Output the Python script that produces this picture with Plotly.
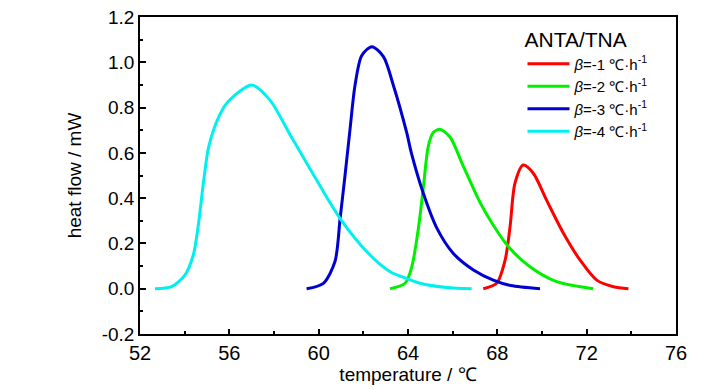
import plotly.graph_objects as go

# beta = -1 (red)
red_x = [67.37, 67.97, 68.35, 68.57, 68.79, 69.16, 69.61, 70.21, 70.96, 71.7, 72.45, 73.2, 73.87]
red_y = [0.0, 0.024, 0.127, 0.274, 0.466, 0.546, 0.51, 0.39, 0.245, 0.127, 0.038, 0.009, 0.0]
# beta = -2 (green)
green_x = [63.2, 63.87, 64.17, 64.47, 64.69, 64.91, 65.13, 65.43, 65.88, 66.48, 67.23, 67.82, 68.5, 69.46, 70.66, 72.3]
green_y = [0.0, 0.024, 0.097, 0.27, 0.45, 0.63, 0.69, 0.704, 0.67, 0.54, 0.38, 0.28, 0.185, 0.097, 0.031, 0.0]
# beta = -3 (blue)
blue_x = [59.46, 60.21, 60.73, 60.96, 61.18, 61.4, 61.63, 61.93, 62.38, 62.9, 63.34, 63.94, 64.15, 64.69, 65.28, 66.03, 66.93, 67.82, 68.6, 69.91]
blue_y = [0.0, 0.024, 0.12, 0.31, 0.50, 0.70, 0.90, 1.03, 1.069, 1.025, 0.90, 0.69, 0.60, 0.42, 0.27, 0.156, 0.083, 0.038, 0.014, 0.0]
# beta = -4 (cyan)
cyan_x = [52.67, 53.42, 54.01, 54.39, 54.61, 54.83, 55.06, 55.36, 55.81, 56.25, 57.0, 57.82, 58.72, 59.61, 60.96, 62.3, 63.2, 64.0, 64.54, 65.73, 66.85]
cyan_y = [0.0, 0.009, 0.06, 0.15, 0.28, 0.46, 0.62, 0.72, 0.81, 0.855, 0.90, 0.833, 0.68, 0.53, 0.31, 0.149, 0.075, 0.043, 0.024, 0.005, 0.0]

series_names = ["<i>β</i>=-1 ℃·h<sup>-1</sup>", "<i>β</i>=-2 ℃·h<sup>-1</sup>",
                "<i>β</i>=-3 ℃·h<sup>-1</sup>", "<i>β</i>=-4 ℃·h<sup>-1</sup>"]
series_colors = ["#FF0000", "#00F000", "#0000D0", "#00F0F0"]

x_ticks = [52, 56, 60, 64, 68, 72, 76]
y_ticks = [-0.2, 0.0, 0.2, 0.4, 0.6, 0.8, 1.0, 1.2]

fig = go.Figure()
for xs, ys, name, col in zip([red_x, green_x, blue_x, cyan_x],
                             [red_y, green_y, blue_y, cyan_y],
                             series_names, series_colors):
    fig.add_trace(go.Scatter(x=xs, y=ys, mode="lines", name=name,
                             line=dict(color=col, width=3, shape="spline", smoothing=0.8)))

font_main = "Liberation Sans, Arial, sans-serif"

# the page body adds an 8px offset; margins compensate for it
fig.update_layout(
    width=728, height=390,
    margin=dict(l=132, r=60, t=9, b=64, autoexpand=False),
    paper_bgcolor="white", plot_bgcolor="white",
    font=dict(family=font_main, color="black", size=18),
    legend=dict(
        title=dict(text="ANTA/TNA", font=dict(size=21)),
        x=0.7136, y=0.99, xanchor="left", yanchor="top",
        bgcolor="rgba(0,0,0,0)", font=dict(size=15),
        tracegroupgap=0, itemwidth=42,
    ),
    xaxis=dict(
        range=[52, 76], tickvals=x_ticks, ticktext=[str(v) for v in x_ticks],
        automargin=False, ticklabeloverflow="allow",
        showgrid=False, zeroline=False, showline=True, linecolor="black", linewidth=1.5,
        mirror=True, ticks="inside", ticklen=5, tickwidth=1.5, tickcolor="black",
        minor=dict(dtick=2, ticks="inside", ticklen=3, tickwidth=1.5, tickcolor="black"),
        tickfont=dict(size=20),
        title=dict(text="temperature / ℃", font=dict(size=19), standoff=2),
    ),
    yaxis=dict(
        range=[-0.2, 1.2], tickvals=y_ticks, ticktext=["%.1f" % v for v in y_ticks],
        automargin=False, ticklabeloverflow="allow",
        showgrid=False, zeroline=False, showline=True, linecolor="black", linewidth=1.5,
        mirror=True, ticks="inside", ticklen=6, tickwidth=1.5, tickcolor="black",
        minor=dict(dtick=0.1, ticks="inside", ticklen=3, tickwidth=1.5, tickcolor="black"),
        tickfont=dict(size=19),
        title=dict(text="heat flow / mW", font=dict(size=19), standoff=15),
    ),
)

fig.write_html("out.html")
